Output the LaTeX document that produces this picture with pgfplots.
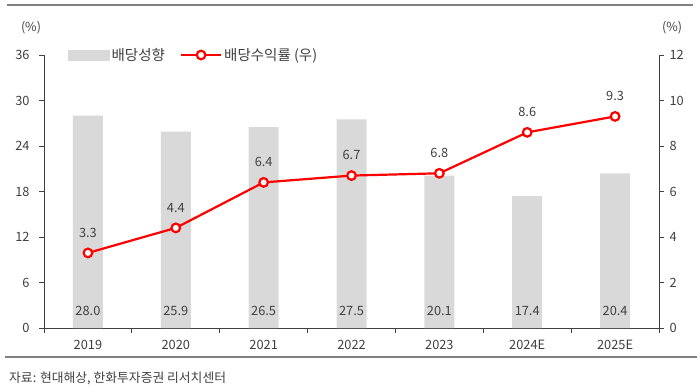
\documentclass[border=0pt]{standalone}
\usepackage{pgfplots}
\pgfplotsset{compat=1.18}
\usepackage{fontspec}
\setmainfont{Noto Sans CJK KR}
\definecolor{txt}{HTML}{404040}
\definecolor{barc}{HTML}{D9D9D9}
\definecolor{axc}{HTML}{404040}
\begin{document}
\begin{tikzpicture}[x=1pt,y=1pt]
\path (0,0) rectangle (700,391);
\draw[color={rgb,255:red,128;green,128;blue,128}, line width=2.2pt] (7,386) -- (693,386);
\draw[color={rgb,255:red,128;green,128;blue,128}, line width=2pt] (5,34) -- (697,34);
\node[anchor=west, text=txt, font=\fontsize{12.8}{15}\selectfont, inner sep=0pt] at (9,13) {자료: 현대해상, 한화투자증권 리서치센터};
\node[text=txt, font=\fontsize{12.5}{15}\selectfont, inner sep=0pt] at (31,363) {(\%)};
\node[text=txt, font=\fontsize{12.5}{15}\selectfont, inner sep=0pt] at (672,363) {(\%)};
\begin{axis}[
  at={(44pt,63pt)}, anchor=south west, scale only axis,
  width=615pt, height=273pt,
  xmin=-0.5, xmax=6.5, ymin=0, ymax=36,
  axis x line*=bottom, axis y line*=left,
  axis line style={color=axc, line width=0.8pt},
  xtick={0,1,2,3,4,5,6},
  xticklabels={2019,2020,2021,2022,2023,2024E,2025E},
  minor xtick={-0.5,0.5,1.5,2.5,3.5,4.5,5.5,6.5},
  major x tick style={draw=none},
  minor x tick style={color=axc, line width=0.8pt},
  minor tick length=5pt,
  ytick={0,6,12,18,24,30,36},
  major y tick style={color=axc, line width=0.8pt},
  major tick length=5pt,
  tick align=outside,
  ticklabel style={text=txt, font=\fontsize{12.8}{15}\selectfont},
  /pgf/number format/assume math mode=true,
  yticklabel style={xshift=-6pt},
  xticklabel style={yshift=-4pt},
  clip=false,
]
\addplot[ybar, bar width=30pt, fill=barc, draw=none] coordinates {(0,28.0) (1,25.9) (2,26.5) (3,27.5) (4,20.1) (5,17.4) (6,20.4)};
\addplot[draw=none, mark=none, nodes near coords, point meta=explicit symbolic,
  every node near coord/.style={anchor=center, text=txt, font=\fontsize{12.8}{15}\selectfont}]
  coordinates {(0,2.3) [28.0] (1,2.3) [25.9] (2,2.3) [26.5] (3,2.3) [27.5] (4,2.3) [20.1] (5,2.3) [17.4] (6,2.3) [20.4]};
\end{axis}
\begin{axis}[
  at={(44pt,63pt)}, anchor=south west, scale only axis,
  width=615pt, height=273pt,
  xmin=-0.5, xmax=6.5, ymin=0, ymax=12,
  axis x line=none, axis y line*=right,
  axis line style={color=axc, line width=0.8pt},
  ytick={0,2,4,6,8,10,12},
  major y tick style={color=axc, line width=0.8pt},
  major tick length=5pt,
  tick align=outside,
  ticklabel style={text=txt, font=\fontsize{12.8}{15}\selectfont},
  /pgf/number format/assume math mode=true,
  yticklabel style={xshift=2pt},
  clip=false,
  legend style={at={(rel axis cs:0,1)}, anchor=west, xshift=24pt, draw=none, fill=none, inner sep=0pt,
    font=\fontsize{14.5}{16}\selectfont, text=txt, legend columns=2,
    nodes={inner xsep=2pt, inner ysep=1pt},
    /tikz/every even column/.append style={column sep=13pt}},
  legend cell align=left,
]
\addlegendimage{area legend, legend image code/.code={\fill[barc] (0pt,-5pt) rectangle (41pt,5pt);}}
\addlegendentry{배당성향}
\addplot[red, line width=2.2pt, mark=*, mark size=4.3pt, mark options={fill=white, draw=red, line width=2.2pt},
  nodes near coords, point meta=explicit symbolic,
  every node near coord/.style={anchor=south, yshift=11pt, text=txt, font=\fontsize{12.8}{15}\selectfont},
  legend image code/.code={\draw[red, line width=2.2pt] (0pt,0pt) -- (40pt,0pt); \draw[red, line width=2.2pt, fill=white] (20pt,0pt) circle (4.3pt);}]
  coordinates {(0,3.3) [3.3] (1,4.4) [4.4] (2,6.4) [6.4] (3,6.7) [6.7] (4,6.8) [6.8] (5,8.6) [8.6] (6,9.3) [9.3]};
\addlegendentry{배당수익률 (우)}
\end{axis}
\end{tikzpicture}
\end{document}
